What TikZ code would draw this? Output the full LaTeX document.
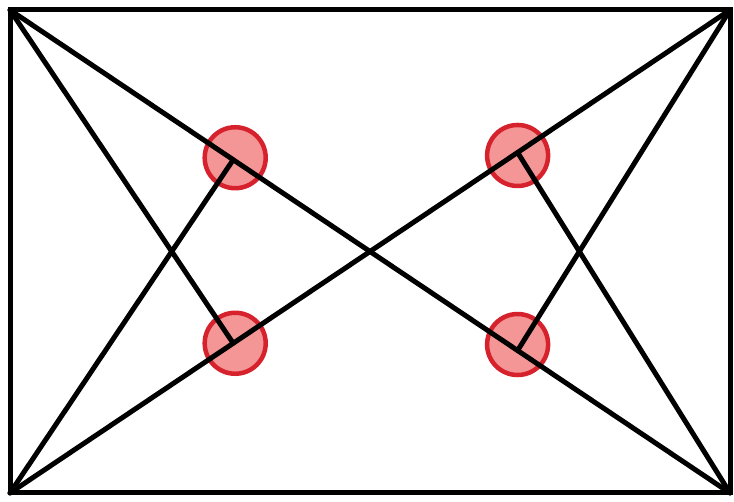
\documentclass[tikz,border=0pt]{standalone}
\usepackage{tikz}
\usetikzlibrary{calc}
\definecolor{ringred}{RGB}{214,34,44}
\definecolor{ringfill}{RGB}{244,150,150}

\begin{document}
\begin{tikzpicture}[
    x=1pt, y=-1pt,
    edge/.style={line width=5pt, black, line cap=round},
    frame/.style={line width=5pt, black},
    spot/.style={circle, draw=ringred, fill=ringfill, line width=4.5pt, minimum size=61pt, inner sep=0pt}
]
\useasboundingbox (0,0) rectangle (734,502);

% Corners of the frame
\coordinate (TL) at (10,10);
\coordinate (TR) at (730,10);
\coordinate (BR) at (730,493);
\coordinate (BL) at (10,493);

% Feet of the side lines on the diagonals
\coordinate (UL) at ($(TL)!0.31!(BR)$);
\coordinate (LR) at ($(TL)!0.705!(BR)$);
\coordinate (LL) at ($(BL)!0.31!(TR)$);
\coordinate (UR) at ($(BL)!0.705!(TR)$);

% Red markers
\node[spot] (mUL) at ($(UL)+(2,-2)$) {};
\node[spot] (mLL) at ($(LL)+(2,0)$) {};
\node[spot] (mUR) at ($(UR)+(0,3)$) {};
\node[spot] (mLR) at ($(LR)+(0,-6)$) {};

% Frame
\draw[frame] (TL) rectangle (BR);

% Diagonals
\draw[edge] (TL) -- (BR);
\draw[edge] (BL) -- (TR);

% Side lines
\draw[edge] (BL) -- (UL);
\draw[edge] (TL) -- (LL);
\draw[edge] (BR) -- (UR);
\draw[edge] (TR) -- (LR);

\end{tikzpicture}
\end{document}
